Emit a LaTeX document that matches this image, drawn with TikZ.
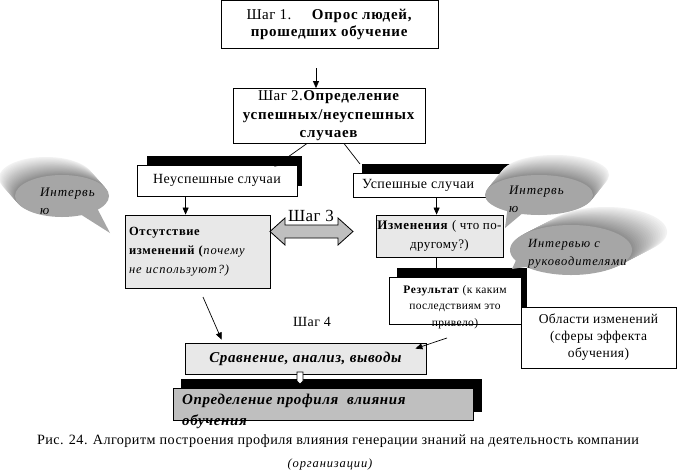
\documentclass[tikz,border=0pt]{standalone}
\usepackage{fontspec}
\setmainfont{Liberation Serif}[LetterSpace=3,BoldFeatures={LetterSpace=5},ItalicFeatures={LetterSpace=7},BoldItalicFeatures={LetterSpace=4}]
\usetikzlibrary{arrows.meta,calc}
\begin{document}
\begin{tikzpicture}[x=1pt,y=-1pt,
  box/.style={draw,line width=0.8pt,inner sep=0pt,align=center,font=\fontsize{14}{19}\selectfont},
  conn/.style={line width=0.7pt},
  arr/.style={conn,-{Triangle[length=7pt,width=6pt]}},
  shadow/.style={fill=black},
  face/.style={fill=black!35},
  btext/.style={inner sep=0pt,align=left,font=\itshape\fontsize{13}{18}\selectfont},
  lbl/.style={inner sep=0pt,font=\fontsize{14}{17}\selectfont}]
\useasboundingbox (0,0) rectangle (678,475);
\fill[white] (0,0) rectangle (678,475);

% Step 1 and 2
\node[box,minimum width=217,minimum height=48,font=\fontsize{15}{17}\selectfont] (b1) at (329.5,24)
  {Шаг 1.\hspace{20pt}\textbf{Опрос людей,}\\\textbf{прошедших обучение}};
\coordinate (a1) at (316,68);
\node[box,minimum width=192,minimum height=55,font=\fontsize{15}{18.5}\selectfont] (b2) at (329,116)
  {Шаг 2.\textbf{Определение}\\\textbf{успешных/неуспешных}\\\textbf{случаев}};
\draw[arr] (a1) -- (a1 |- b2.north);

% shadows
\fill[shadow] (147,156) rectangle (302,186);
\fill[shadow] (362,164) rectangle (515,190);

% unsuccessful / successful
\node[box,fill=white,minimum width=160,minimum height=31] (neu) at (217,180.5) {Неуспешные случаи};
\node[box,fill=white,minimum width=156,minimum height=24] (usp) at (431,185) {};
\node[lbl,anchor=west] (uspt) at (362,185) {Успешные случаи};

\coordinate (s1) at (307,143.5);
\coordinate (s2) at (344,143.5);
\coordinate (e2) at (360,164);
\draw[arr] (s1) -- ([xshift=-23pt,yshift=-2pt]neu.north east);
\draw[conn] (s2) -- (e2);

% step 3 boxes
\node[box,fill=black!9,minimum width=145,minimum height=73,text width=137,align=left,
  font=\fontsize{12.5}{19}\selectfont] (ots) at (197.5,251.5)
  {\textbf{Отсутствие}\\\textbf{изменений (}\textit{почему}\\\textit{не используют?)}};
\node[box,fill=black!9,minimum width=127,minimum height=42,font=\fontsize{13}{19}\selectfont] (izm) at (439.5,236)
  {\textbf{Изменения} ( что по-\\другому?)};
\draw[arr] ([xshift=49pt]neu.south west) -- ([xshift=61pt]ots.north west);
\draw[arr] ([xshift=84pt]usp.south west) -- ([xshift=61pt]izm.north west);

\node[lbl,font=\fontsize{17}{19}\selectfont] (st3) at (311,216) {Шаг 3};
\draw[line width=0.8pt,fill=black!25] (270,231.5) -- (285,218) -- (285,225) -- (338,225) -- (338,218)
  -- (353,231.5) -- (338,245) -- (338,238) -- (285,238) -- (285,245) -- cycle;

% result
\fill[shadow] (397,268) rectangle (527,308);
\node[box,fill=white,minimum width=132,minimum height=47] (rez) at (455,300.5) {};
\node[inner sep=0pt,align=center,font=\fontsize{11.5}{16.5}\selectfont] (rezt) at (455,307)
  {\textbf{Результат} (к каким\\последствиям это\\привело)};
\draw[arr] ([xshift=61pt]izm.south west) -- ([xshift=48pt]rez.north west);

\node[box,fill=white,minimum width=155,minimum height=61,font=\fontsize{13.5}{17}\selectfont] (obl) at (598.5,337.5)
  {Области изменений\\(сферы эффекта\\обучения)};

% step 4
\node[lbl] (st4) at (312,322) {Шаг 4};
\node[box,fill=black!9,minimum width=241,minimum height=31,font=\bfseries\itshape\fontsize{15}{18}\selectfont] (sr) at (305.5,358.5)
  {Сравнение, анализ, выводы};
\coordinate (c1) at (203,297);
\coordinate (c2) at (447,338);
\draw[arr] (c1) -- ([xshift=37pt,yshift=3pt]sr.north west);
\draw[arr] (c2) -- ([xshift=-11pt,yshift=-6pt]sr.north east);

\fill[shadow] (181,379) rectangle (482,412);
\node[box,fill=black!25,minimum width=300,minimum height=32] (def) at (323,404) {};
\node[inner sep=0pt,anchor=north west,align=left,font=\bfseries\itshape\fontsize{15}{21}\selectfont] (deft) at (182,394)
  {Определение профиля\ \ влияния\\обучения};
\draw[line width=0.7pt,fill=white] (297,372) -- (303,372) -- (303,381) -- (300,384) -- (297,381) -- cycle;

% bubbles
\foreach \i in {20,19,...,1}{
  \pgfmathsetmacro\c{5+40*(1-\i/20)}
  \fill[black!\c] ({62-16*\i/20},{196-18*\i/20}) ellipse [x radius=47,y radius=21];
}
\fill[face] (62,196) ellipse [x radius=47,y radius=21];
\fill[face] (80,214) -- (110,233) -- (97,208) -- cycle;
\node[btext,anchor=west] (bb1) at (40,201) {Интервь\\ю};

\foreach \i in {20,19,...,1}{
  \pgfmathsetmacro\c{5+40*(1-\i/20)}
  \fill[black!\c] ({539+16*\i/20},{195-20*\i/20}) ellipse [x radius=54,y radius=20];
}
\fill[face] (539,195) ellipse [x radius=54,y radius=20];
\fill[face] (508,205) -- (505,228) -- (524,212) -- cycle;
\node[btext,anchor=west] (bb2) at (509,199) {Интервь\\ю};

\foreach \i in {20,19,...,1}{
  \pgfmathsetmacro\c{5+40*(1-\i/20)}
  \fill[black!\c] ({571+35*\i/20},{250-18*\i/20}) ellipse [x radius=61,y radius=25];
}
\fill[face] (571,250) ellipse [x radius=61,y radius=25];
\fill[face] (518,256) -- (512,269) -- (532,266) -- cycle;
\node[btext,anchor=west,font=\itshape\fontsize{12.5}{18}\selectfont] (bb3) at (528,254) {Интервью с\\руководителями};

% caption
\node[inner sep=0pt,font=\fontsize{14.2}{17}\selectfont] (cap) at (338,441)
  {Рис. 24. Алгоритм построения профиля влияния генерации знаний на деятельность компании};
\node[inner sep=0pt,font=\itshape\fontsize{12.5}{13}\selectfont] (cap2) at (330,464) {(организации)};
\end{tikzpicture}
\end{document}
